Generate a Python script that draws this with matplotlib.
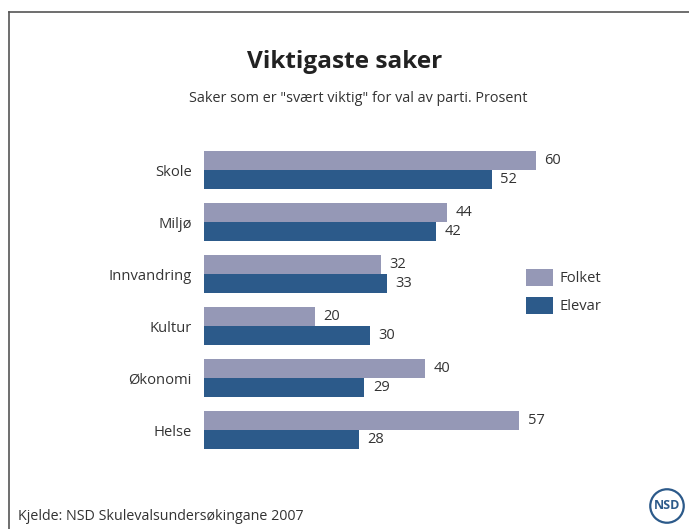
import matplotlib
matplotlib.use("Agg")
import matplotlib.pyplot as plt
from matplotlib.patches import Circle
from matplotlib.lines import Line2D
import numpy as np

plt.rcParams['font.family'] = ['Open Sans', 'DejaVu Sans']

categories = ["Skole", "Miljø", "Innvandring", "Kultur", "Økonomi", "Helse"]
folket = [60, 44, 32, 20, 40, 57]
elevar = [52, 42, 33, 30, 29, 28]
series_names = ["Folket", "Elevar"]
title = "Viktigaste saker"
subtitle = 'Saker som er "svært viktig" for val av parti. Prosent'
source = "Kjelde: NSD Skulevalsundersøkingane 2007"

c_folket = "#9598B6"
c_elevar = "#2C5A8A"
txt = "#333333"

W, H = 689, 529
fig = plt.figure(figsize=(W / 100, H / 100), dpi=100)

# axes geometry in pixels
x0, x1 = 204, 204 + 5.533 * 80
ytop, ybot = 144, 456
ax = fig.add_axes([x0 / W, 1 - ybot / H, (x1 - x0) / W, (ybot - ytop) / H])
ax.set_xlim(0, 80)
ax.set_ylim(5.5, -0.5)

y = np.arange(len(categories))
h = 0.365
b1 = ax.barh(y - h / 2, folket, height=h, color=c_folket, label=series_names[0])
b2 = ax.barh(y + h / 2, elevar, height=h, color=c_elevar, label=series_names[1])

for yy, v in zip(y - h / 2, folket):
    ax.annotate(str(v), (v, yy), xytext=(6, 0), textcoords="offset points",
                va="center", ha="left", fontsize=10.5, color=txt)
for yy, v in zip(y + h / 2, elevar):
    ax.annotate(str(v), (v, yy), xytext=(6, 0), textcoords="offset points",
                va="center", ha="left", fontsize=10.5, color=txt)

ax.set_yticks(y)
ax.set_yticklabels(categories, fontsize=10.6, color=txt)
ax.tick_params(axis="y", length=0, pad=9)
ax.set_xticks([])
for s in ax.spines.values():
    s.set_visible(False)

leg = fig.legend(handles=[b1, b2], labels=series_names, loc="upper left",
                 bbox_to_anchor=(520 / W, 1 - 263 / H), frameon=False,
                 fontsize=10.6, handlelength=1.85, handleheight=1.4,
                 handletextpad=0.45, labelspacing=0.7, borderaxespad=0)
for t in leg.get_texts():
    t.set_color(txt)

fig.text(345 / W, 1 - 62 / H, title, ha="center", va="center",
         fontsize=17.6, fontweight="bold", color="#222222")
fig.text(358 / W, 1 - 99 / H, subtitle, ha="center", va="center",
         fontsize=10.4, color=txt)
fig.text(18 / W, 1 - 517 / H, source, ha="left", va="center",
         fontsize=10.3, color=txt)

# frame lines (top and left)
fig.add_artist(Line2D([8.5 / W, 1], [1 - 11.5 / H, 1 - 11.5 / H],
                      transform=fig.transFigure, color="#555555", lw=1.2))
fig.add_artist(Line2D([8.5 / W, 8.5 / W], [0, 1 - 11.5 / H],
                      transform=fig.transFigure, color="#555555", lw=1.2))

# NSD logo
lax = fig.add_axes([649 / W, 1 - 524 / H, 36 / W, 36 / H])
lax.set_xlim(-1, 1)
lax.set_ylim(-1, 1)
lax.set_aspect("equal")
lax.axis("off")
lax.add_patch(Circle((0, 0), 0.93, fill=False, ec="#2C5A8A", lw=1.6))
lax.text(0, 0.02, "NSD", ha="center", va="center", fontsize=9,
         fontweight="bold", color="#2C5A8A")

fig.savefig("out.png", dpi=100)
